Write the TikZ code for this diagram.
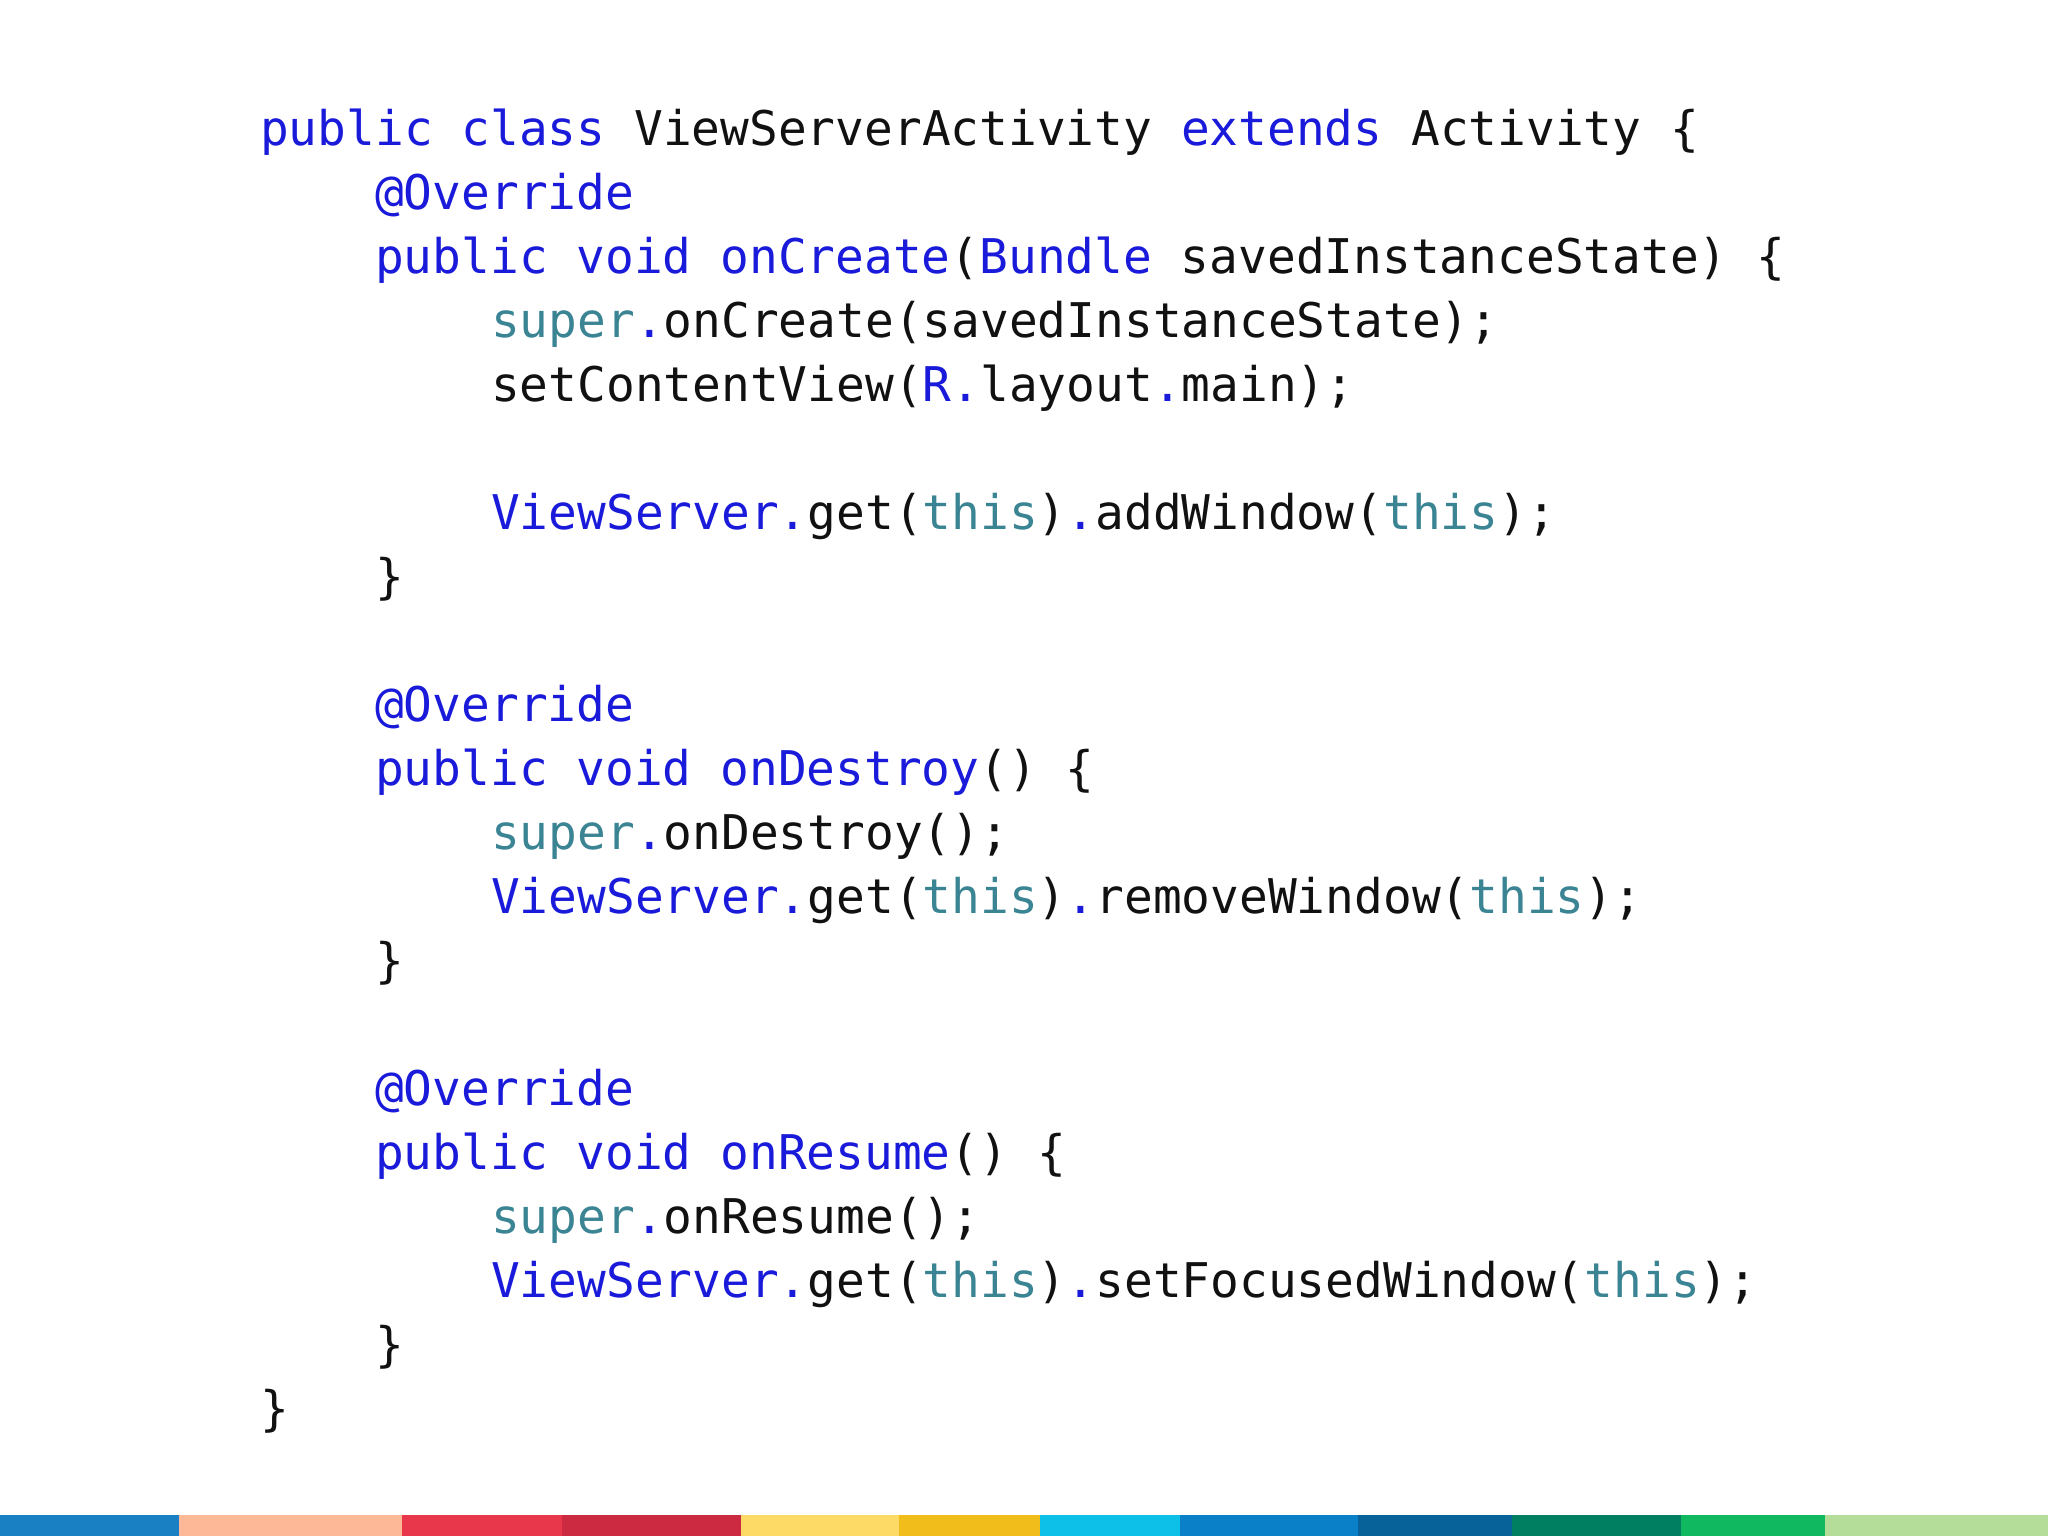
\documentclass[tikz,border=0pt]{standalone}
\usepackage{fontspec}
\setmonofont{DejaVu Sans Mono}
\definecolor{kwblue}{HTML}{1A1ADB}
\definecolor{tealc}{HTML}{3A8494}
\definecolor{txt}{HTML}{111111}
\newcommand{\kw}[1]{\textcolor{kwblue}{#1}}
\newcommand{\tl}[1]{\textcolor{tealc}{#1}}
\begin{document}
\begin{tikzpicture}[x=1pt,y=1pt,
  codeline/.style={anchor=base west,inner sep=0pt,font=\ttfamily\fontsize{47.8}{52}\selectfont,text=txt}]
\useasboundingbox (0,0) rectangle (2048,1536);
\fill[white] (0,0) rectangle (2048,1536);
\node[codeline] (l1) at (260,1390) {\kw{public class} ViewServerActivity \kw{extends} Activity \{};
\node[codeline] (l2) at (375,1326) {\kw{@Override}};
\node[codeline] (l3) at (375,1262) {\kw{public void onCreate}(\kw{Bundle} savedInstanceState) \{};
\node[codeline] (l4) at (491,1198) {\tl{super}\kw{.}onCreate(savedInstanceState);};
\node[codeline] (l5) at (491,1134) {setContentView(\kw{R.}layout\kw{.}main);};
\node[codeline] (l6) at (491,1006) {\kw{ViewServer.}get(\tl{this})\kw{.}addWindow(\tl{this});};
\node[codeline] (l7) at (375,942) {\}};
\node[codeline] (l8) at (375,814) {\kw{@Override}};
\node[codeline] (l9) at (375,750) {\kw{public void onDestroy}() \{};
\node[codeline] (l10) at (491,686) {\tl{super}\kw{.}onDestroy();};
\node[codeline] (l11) at (491,622) {\kw{ViewServer.}get(\tl{this})\kw{.}removeWindow(\tl{this});};
\node[codeline] (l12) at (375,558) {\}};
\node[codeline] (l13) at (375,430) {\kw{@Override}};
\node[codeline] (l14) at (375,366) {\kw{public void onResume}() \{};
\node[codeline] (l15) at (491,302) {\tl{super}\kw{.}onResume();};
\node[codeline] (l16) at (491,238) {\kw{ViewServer.}get(\tl{this})\kw{.}setFocusedWindow(\tl{this});};
\node[codeline] (l17) at (375,174) {\}};
\node[codeline] (l18) at (260,110) {\}};
% colour bar
\foreach \a/\b/\c in {0/179/1A80C4,179/402/FDB997,402/562/E8364A,562/741/CC2A40,741/899/FDD966,899/1040/F0BD1A,1040/1180/0DC0E8,1180/1358/0A80C8,1358/1512/08629A,1512/1681/008060,1681/1825/10B860,1825/2048/B5DD9A}{
  \definecolor{barc}{HTML}{\c}
  \fill[barc] (\a,0) rectangle (\b,21);
}
\end{tikzpicture}
\end{document}
